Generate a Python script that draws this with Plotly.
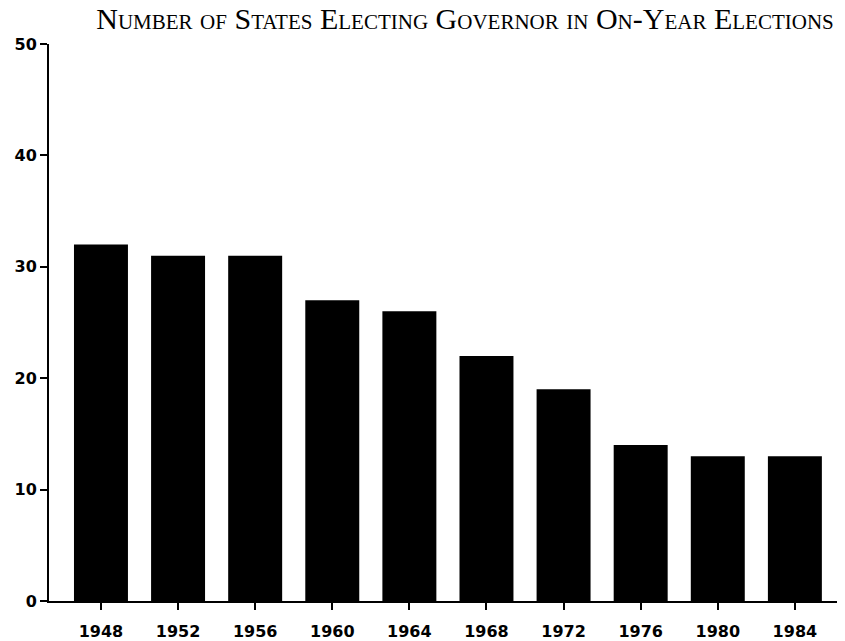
import plotly.graph_objects as go

years = ["1948", "1952", "1956", "1960", "1964", "1968", "1972", "1976", "1980", "1984"]
states = [32, 31, 31, 27, 26, 22, 19, 14, 13, 13]
y_ticks = [0, 10, 20, 30, 40, 50]
title_text = "Number of States Electing Governor in On-Year Elections"

fig = go.Figure(go.Bar(x=years, y=states, marker=dict(color="black", line=dict(width=0))))

tick_font = dict(family="DejaVu Sans", size=16, color="black", weight="bold")

# page body adds 8px offset; figure sized to compensate
fig.update_layout(
    width=837, height=633,
    margin=dict(l=41, r=0, t=36, b=36),
    paper_bgcolor="white", plot_bgcolor="white",
    bargap=0.3,
    showlegend=False,
    title=dict(text=title_text, x=0.546, xanchor="center", y=0.983, yanchor="middle",
               font=dict(family="Liberation Serif", size=30, color="black", variant="small-caps")),
)
fig.update_xaxes(type="category", range=[-0.674, 9.65], showline=True, linecolor="black", linewidth=2,
                 ticks="outside", ticklen=7, tickwidth=2, tickcolor="black", showgrid=False,
                 tickfont=tick_font, zeroline=False, ticklabelstandoff=8)
fig.update_yaxes(range=[0, 50], tickvals=y_ticks, showline=True, linecolor="black", linewidth=2,
                 ticks="outside", ticklen=7, tickwidth=2, tickcolor="black", showgrid=False,
                 tickfont=tick_font, zeroline=False)

fig.write_html("out.html")
